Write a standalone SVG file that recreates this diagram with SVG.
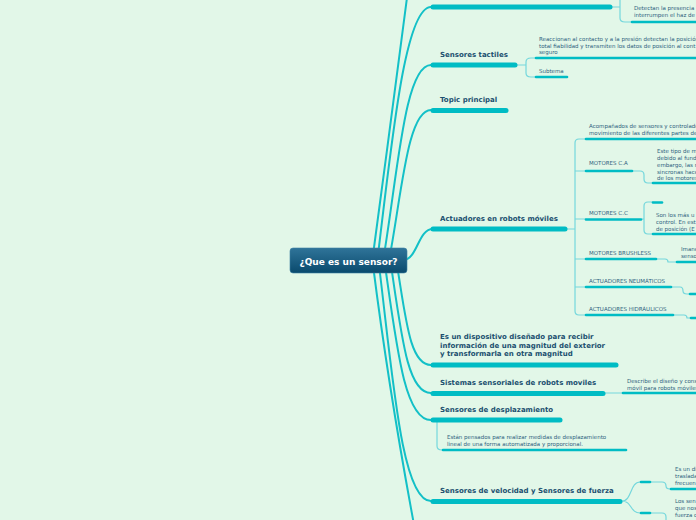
<svg xmlns="http://www.w3.org/2000/svg" width="696" height="520" viewBox="0 0 696 520">
<defs>
<linearGradient id="cg" x1="0" y1="0" x2="0" y2="1">
<stop offset="0" stop-color="#2f7499"/>
<stop offset="1" stop-color="#0a4a6d"/>
</linearGradient>
<style>
.main{fill:none;stroke:#13c0c7;stroke-width:2;stroke-linecap:round}
.thin{fill:none;stroke:#74d7dc;stroke-width:1.2;stroke-linecap:round}
.bar{stroke:#00bcc4;stroke-width:5;stroke-linecap:round}
.sub{stroke:#00bcc4;stroke-width:2.6;stroke-linecap:round}
.t{font-family:"DejaVu Sans",Verdana,sans-serif;font-weight:bold;font-size:7px;fill:#1b4f6f}
.s{font-family:"DejaVu Sans",Verdana,sans-serif;font-size:5.5px;fill:#2e5f7e}
</style>
</defs>
<rect width="696" height="520" fill="#e2f7e8"/>
<g id="connectors">
<path class="main" d="M373 255 C385 170 398 60 408 -10"/>
<path class="main" d="M378 255 C392 140 405 7 431 7"/>
<path class="main" d="M384 255 C398 170 405 65 431 65"/>
<path class="main" d="M390 255 C402 190 408 110 431 110"/>
<path class="main" d="M404 260 C418 258 418 229 433 229"/>
<path class="main" d="M397 265 C406 320 410 365 431 365"/>
<path class="main" d="M391 265 C402 340 408 393 431 393"/>
<path class="main" d="M385 265 C397 350 405 420 431 420"/>
<path class="main" d="M379 265 C393 380 402 501 431 501"/>
<path class="main" d="M373 265 C385 360 400 450 415 530"/>
<path class="thin" d="M612 7 H620 M620 -2 V18 Q620 22 625 22 H632"/>
<path class="thin" d="M516 65 H526 M526 65 V62 Q526 58 531 58 H536 M526 65 V73 Q526 77 531 77 H536"/>
<path class="thin" d="M566 229 H575 M586 139 H579 Q575 139 575 143 V311 Q575 315 579 315 H586 M575 171 H586 M575 219 H586 M575 259 H586 M575 287 H586"/>
<path class="thin" d="M633 171 H640 Q644 171 644 175 V179 Q644 183 648 183 H653"/>
<path class="thin" d="M642 219 H644 M653 202 H648 Q644 202 644 206 V230 Q644 234 648 234 H653"/>
<path class="thin" d="M657 259 H665 Q668 259 668 262 H677"/>
<path class="thin" d="M672 287 H680 Q683 287 683 291 Q683 294 687 294 H696"/>
<path class="thin" d="M674 315 H684 Q687 315 687 318 H696"/>
<path class="thin" d="M604 393 H622"/>
<path class="thin" d="M437 421 V446 Q437 450 442 450"/>
<path class="thin" d="M622 501 C632 501 630 482 640 482 M622 501 C632 501 630 513 640 513 M650 482 H662 Q666 482 666 486 Q666 489 670 489 M650 513 H662 Q666 513 666 517 V525"/>
</g>
<g id="center">
<rect x="290" y="248" width="117" height="25" rx="3" fill="url(#cg)" stroke="#3d7fa3" stroke-width="0.6"/>
<text x="348.5" y="264.5" text-anchor="middle" font-family="DejaVu Sans,Verdana,sans-serif" font-weight="bold" font-size="9" fill="#ffffff">¿Que es un sensor?</text>
</g>
<g id="n1">
<line class="bar" x1="433" y1="7" x2="610" y2="7"/>
<line class="sub" x1="632" y1="22" x2="698" y2="22"/>
<text class="s" x="634" y="10">Detectan la presencia</text>
<text class="s" x="634" y="17">interrumpen el haz de</text>
</g>
<g id="n2">
<text class="t" x="440" y="56.5">Sensores tactiles</text>
<line class="bar" x1="433" y1="65" x2="515" y2="65"/>
<line class="sub" x1="536" y1="58" x2="698" y2="58"/>
<text class="s" x="539" y="40.5">Reaccionan al contacto y a la presión detectan la posición</text>
<text class="s" x="539" y="47.5">total fiabilidad y transmiten los datos de posición al cont</text>
<text class="s" x="539" y="54">seguro</text>
<line class="sub" x1="536" y1="77" x2="567" y2="77"/>
<text class="s" x="539" y="73">Subtema</text>
</g>
<g id="n3">
<text class="t" x="440" y="101.5">Topic principal</text>
<line class="bar" x1="433" y1="110.5" x2="506" y2="110.5"/>
</g>
<g id="n4">
<text class="t" x="440" y="220.5">Actuadores en robots móviles</text>
<line class="bar" x1="433" y1="229" x2="565" y2="229"/>
<text class="s" x="589" y="128">Acompañados de sensores y controlado</text>
<text class="s" x="589" y="135">movimiento de las diferentes partes de</text>
<line class="sub" x1="586" y1="139" x2="698" y2="139"/>
<text class="s" x="589" y="165">MOTORES C.A</text>
<line class="sub" x1="586" y1="171" x2="632" y2="171"/>
<text class="s" x="657" y="152.5">Este tipo de m</text>
<text class="s" x="657" y="159.5">debido al fund</text>
<text class="s" x="657" y="166.5">embargo, las m</text>
<text class="s" x="657" y="173.5">sincronas hace</text>
<text class="s" x="657" y="180">de los motores</text>
<line class="sub" x1="653" y1="183" x2="698" y2="183"/>
<text class="s" x="589" y="215">MOTORES C.C</text>
<line class="sub" x1="586" y1="219.5" x2="641" y2="219.5"/>
<line class="sub" x1="653" y1="202.5" x2="662" y2="202.5"/>
<text class="s" x="656" y="217">Son los más u</text>
<text class="s" x="656" y="224">control. En est</text>
<text class="s" x="656" y="230.5">de posición (E</text>
<line class="sub" x1="653" y1="234" x2="698" y2="234"/>
<text class="s" x="589" y="255">MOTORES BRUSHLESS</text>
<line class="sub" x1="586" y1="259" x2="656" y2="259"/>
<text class="s" x="681" y="250.5">Imane</text>
<text class="s" x="681" y="257.5">senso</text>
<line class="sub" x1="677" y1="262" x2="698" y2="262"/>
<text class="s" x="589" y="283">ACTUADORES NEUMÁTICOS</text>
<line class="sub" x1="586" y1="287" x2="671" y2="287"/>
<line class="sub" x1="690" y1="294" x2="698" y2="294"/>
<text class="s" x="589" y="311">ACTUADORES HIDRÁULICOS</text>
<line class="sub" x1="586" y1="315" x2="673" y2="315"/>
<line class="sub" x1="691" y1="318" x2="698" y2="318"/>
</g>
<g id="n5">
<text class="t" x="440" y="338.5">Es un dispositivo diseñado para recibir</text>
<text class="t" x="440" y="347.5">información de una magnitud del exterior</text>
<text class="t" x="440" y="356">y transformarla en otra magnitud</text>
<line class="bar" x1="433" y1="365" x2="616" y2="365"/>
</g>
<g id="n6">
<text class="t" x="440" y="385">Sistemas sensoriales de robots moviles</text>
<line class="bar" x1="433" y1="393.5" x2="603" y2="393.5"/>
<text class="s" x="627" y="383">Describe el diseño y cons</text>
<text class="s" x="627" y="389.5">móvil para robots móviles</text>
<line class="sub" x1="623" y1="393" x2="698" y2="393"/>
</g>
<g id="n7">
<text class="t" x="440" y="411.5">Sensores de desplazamiento</text>
<line class="bar" x1="433" y1="420" x2="560" y2="420"/>
<text class="s" x="447" y="439">Están pensados para realizar medidas de desplazamiento</text>
<text class="s" x="447" y="446">lineal de una forma automatizada y proporcional.</text>
<line class="sub" x1="443" y1="450" x2="626" y2="450"/>
</g>
<g id="n8">
<text class="t" x="440" y="493">Sensores de velocidad y Sensores de fuerza</text>
<line class="bar" x1="433" y1="501.5" x2="620" y2="501.5"/>
<line class="sub" x1="641" y1="482" x2="650" y2="482"/>
<line class="sub" x1="641" y1="513" x2="650" y2="513"/>
<text class="s" x="675" y="471">Es un di</text>
<text class="s" x="675" y="477.5">traslada</text>
<text class="s" x="675" y="484.5">frecuen</text>
<line class="sub" x1="671" y1="489" x2="698" y2="489"/>
<text class="s" x="675" y="503">Los sen</text>
<text class="s" x="675" y="510">que nos</text>
<text class="s" x="675" y="516.5">fuerza c</text>
</g>
</svg>
